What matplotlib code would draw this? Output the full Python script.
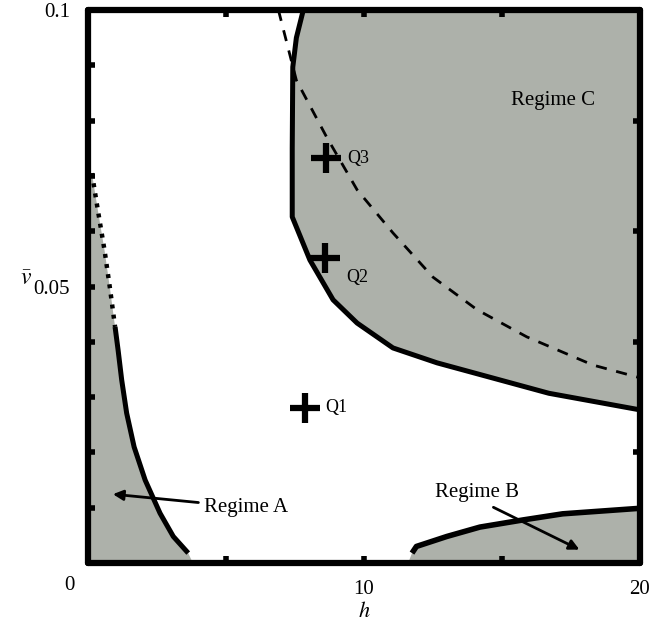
import numpy as np
import matplotlib.pyplot as plt

plt.rcParams['font.family'] = ['Liberation Serif', 'DejaVu Serif']
plt.rcParams['mathtext.fontset'] = 'stix'

# boundary of regime A (dotted upper part, solid lower part)
a_dot_h = [0.14, 0.35, 0.6, 0.8, 0.98]
a_dot_v = [0.0705, 0.064, 0.0565, 0.0495, 0.0427]
a_sol_h = [0.98, 1.09, 1.22, 1.40, 1.67, 2.07, 2.61, 3.09, 3.63]
a_sol_v = [0.0427, 0.0385, 0.0331, 0.0271, 0.0210, 0.0150, 0.0090, 0.0048, 0.0018]

# boundary of regime B
b_h = [11.74, 11.9, 13.0, 14.2, 15.77, 17.2, 20.0]
b_v = [0.0018, 0.003, 0.0048, 0.0065, 0.0078, 0.0089, 0.0099]

# boundary of regime C
c_h = [7.8, 7.55, 7.42, 7.4, 7.4, 8.04, 8.88, 9.75, 11.05, 12.65, 16.7, 20.0]
c_v = [0.1, 0.095, 0.0897, 0.075, 0.0626, 0.0548, 0.0476, 0.0434, 0.0389, 0.0362, 0.0307, 0.0277]

# dashed curve
d_h = [6.9, 7.55, 8.65, 9.75, 11.05, 12.5, 14.1, 15.9, 18.3, 20.0]
d_v = [0.1, 0.0873, 0.077, 0.0675, 0.0597, 0.0517, 0.0458, 0.0409, 0.0358, 0.0335]

# operating points
q_names = ['Q1', 'Q2', 'Q3']
q_h = [7.85, 8.6, 8.63]
q_v = [0.0281, 0.0551, 0.0732]

gray = '#adb1aa'

fig = plt.figure(figsize=(6.55, 6.30), dpi=100)
ax = fig.add_axes([0.1344, 0.1063, 0.8426, 0.8777])

# shaded regions
ax.fill(a_dot_h + a_sol_h[1:] + [3.8, 0, 0], a_dot_v + a_sol_v[1:] + [0, 0, a_dot_v[0]],
        color=gray, lw=0, zorder=1)
ax.fill([11.6] + b_h + [20, 11.6], [0] + b_v + [0, 0], color=gray, lw=0, zorder=1)
ax.fill(c_h + [20], c_v + [0.1], color=gray, lw=0, zorder=1)

# boundaries
ax.plot(a_dot_h, a_dot_v, color='black', lw=3.2, linestyle=(0, (0.9, 1.4)), zorder=3)
ax.plot(a_sol_h, a_sol_v, color='black', lw=3.6, zorder=3, solid_capstyle='butt')
ax.plot(b_h, b_v, color='black', lw=4, zorder=3, solid_capstyle='butt')
ax.plot(c_h, c_v, color='black', lw=3.6, zorder=3)
ax.plot(d_h, d_v, color='black', lw=2, linestyle=(0, (4, 3.5)), zorder=3)

# points
ax.plot(q_h, q_v, linestyle='none', marker='+', ms=22, mew=4.5, color='black', zorder=4)
for name, h, v in zip(q_names, q_h, q_v):
    if name == 'Q2':
        ax.text(h + 0.75, v - 0.0035, name, fontsize=13, va='center', ha='left')
    else:
        ax.text(h + 0.75, v, name, fontsize=13, va='center', ha='left')

# labels and arrows
ax.text(16.85, 0.0837, 'Regime C', fontsize=15, ha='center', va='center')
ax.annotate('Regime A', xy=(0.8, 0.0125), xytext=(4.2, 0.0101), fontsize=15,
            ha='left', va='center',
            arrowprops=dict(arrowstyle='-|>', color='black', lw=2, mutation_scale=15))
ax.text(14.1, 0.0128, 'Regime B', fontsize=15, ha='center', va='center')
ax.annotate('', xy=(17.9, 0.0022), xytext=(14.6, 0.0103),
            arrowprops=dict(arrowstyle='-|>', color='black', lw=2, mutation_scale=15))

ax.set_xlim(0, 20)
ax.set_ylim(0, 0.1)

for s in ax.spines.values():
    s.set_linewidth(4.5)
    s.set_zorder(5)
    s.set_capstyle('round')

ax.set_xticks([0, 5, 10, 15, 20])
ax.set_xticklabels(['', '', '10', '', '20'])
ax.set_yticks(np.arange(0, 0.101, 0.01))
ax.set_yticklabels(['' if i not in (5, 10) else ('0.05' if i == 5 else '0.1') for i in range(11)])
ax.tick_params(axis='both', direction='in', length=5, width=4, labelsize=15, top=True)
ax.tick_params(axis='x', pad=12)
ax.tick_params(axis='y', pad=13)

# right side ticks every 0.02
sec = ax.secondary_yaxis('right')
sec.set_yticks([0.02, 0.04, 0.06, 0.08])
sec.set_yticklabels([])
sec.tick_params(direction='in', length=5, width=4)
sec.spines['right'].set_visible(False)
sec.set_zorder(6)

ax.text(-0.033, -0.04, '0', transform=ax.transAxes, fontsize=15, ha='center', va='center')

ax.set_xlabel(r'$h$', fontsize=16, va='center')
ax.xaxis.set_label_coords(0.5, -0.088)
ax.set_ylabel(r'$\bar{v}$', fontsize=17, rotation=0, va='center', ha='center')
ax.yaxis.set_label_coords(-0.112, 0.513)

plt.savefig('out.png', dpi=100)
